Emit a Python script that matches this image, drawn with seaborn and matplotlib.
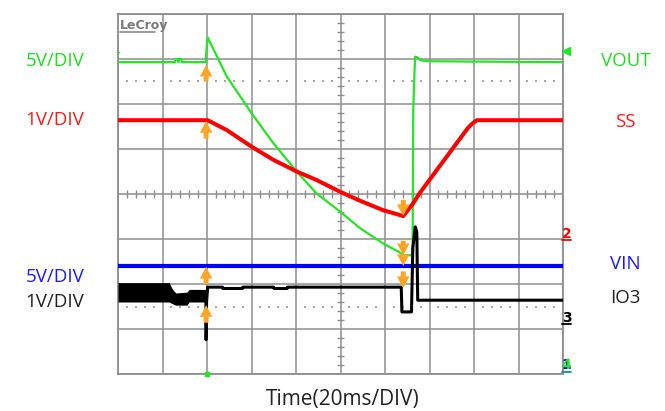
import numpy as np
import pandas as pd
import matplotlib
matplotlib.use("Agg")
import matplotlib.pyplot as plt
from matplotlib.lines import Line2D
import seaborn as sns

# ---- data: time in ms (20 ms/div), amplitude in screen divisions ----
vout_t = [0, 25.6, 26.0, 26.8, 27.2, 27.6, 28.4, 28.8, 39.5, 39.8, 40.4, 48.9, 60.1,
          69.8, 80.3, 89.3, 99.8, 108.8, 119.2, 126.7, 128.2, 132.4, 132.7, 133.5,
          134.5, 136.0, 140.0, 200.0]
vout_v = [2.93, 2.93, 3.0, 3.0, 2.93, 3.0, 3.0, 2.93, 2.93, 3.25, 3.47, 2.61, 1.79,
          1.13, 0.50, 0.01, -0.39, -0.76, -1.10, -1.30, -1.36, -1.36, 1.87, 3.05,
          3.04, 2.97, 2.95, 2.93]

ss_t = [0, 40.3, 48.9, 60.1, 69.8, 80.3, 89.3, 99.8, 108.8, 119.2, 128.2, 132.6,
        135.6, 157.3, 159.1, 161.3, 200]
ss_v = [1.64, 1.64, 1.42, 1.05, 0.76, 0.50, 0.31, 0.05, -0.15, -0.36, -0.49, -0.21,
        0.02, 1.47, 1.56, 1.64, 1.64]

vin_t = [0, 200]
vin_v = [-1.60, -1.60]

io3_band_t = [0, 23.0, 24.5, 26.0, 31.0, 32.0, 39.6]
io3_band_hi = [-1.97, -1.97, -2.12, -2.20, -2.18, -2.12, -2.12]
io3_band_lo = [-2.40, -2.40, -2.44, -2.47, -2.47, -2.40, -2.40]

io3_t = [39.5, 39.6, 39.8, 40.3, 47.0, 47.1, 56.0, 56.1, 70.0, 70.1, 76.0, 76.1,
         127.3, 127.6, 131.9, 132.5, 133.6, 134.3, 134.7, 200]
io3_v = [-2.25, -3.24, -2.40, -2.07, -2.07, -2.10, -2.10, -2.07, -2.07, -2.10, -2.10,
         -2.07, -2.07, -2.62, -2.62, -1.20, -0.73, -0.85, -2.36, -2.36]

# event markers (orange arrows): at trigger and at the end of the fault
up_event_t = 39.6
up_tips = [2.87, 1.62, -1.62, -2.47]
up_tails = [2.50, 1.23, -2.00, -2.86]
down_event_t = 128.2
down_tips = [-0.49, -1.36, -1.60, -2.09]
down_tails = [-0.13, -1.04, -1.36, -1.72]

left_labels = ["5V/DIV", "1V/DIV", "5V/DIV", "1V/DIV"]
right_labels = ["VOUT", "SS", "VIN", "IO3"]
x_label = "Time(20ms/DIV)"

# ---- style ----
sns.set_style("white")
plt.rcParams["font.family"] = ["Open Sans", "DejaVu Sans"]

C_GREEN = "#22e622"
C_RED = "#ff0000"
C_BLUE = "#0000ff"
C_BLACK = "#000000"
C_ORANGE = "#ffa526"
C_GRID = "#8e8e8e"
T_GREEN = "#1fe01f"
T_RED = "#ff1a1a"
T_BLUE = "#1a1aff"
T_BLACK = "#222222"

W, H = 665, 411
fig = plt.figure(figsize=(W / 100, H / 100), dpi=100)
ax = fig.add_axes([118 / W, 1 - 374 / H, 445 / W, 360 / H])
ax.set_xlim(0, 200)
ax.set_ylim(-4, 4)

ax.set_xticks(np.arange(0, 201, 20))
ax.set_yticks(np.arange(-4, 5, 1))
ax.grid(True, color=C_GRID, lw=1.1)
ax.set_axisbelow(True)
ax.tick_params(length=0, labelbottom=False, labelleft=False)
for s in ax.spines.values():
    s.set_color(C_GRID)
    s.set_linewidth(1.3)
ax.set_xlabel("")
ax.set_ylabel("")

# centre cross minor ticks
mx = [x for x in np.arange(0, 200.1, 4) if abs(x / 20 - round(x / 20)) > 1e-6]
ax.vlines(mx, -0.08, 0.08, color=C_GRID, lw=1.0, zorder=1)
my = [y for y in np.arange(-4, 4.01, 0.2) if abs(y - round(y)) > 1e-6]
ax.hlines(my, 100 - 1.6, 100 + 1.6, color=C_GRID, lw=1.0, zorder=1)

# dotted cursor rows at +/-2.5 div
ax.scatter(mx + mx, [2.5] * len(mx) + [-2.5] * len(mx), s=1.2, marker="s",
           color="#a8a8a8", linewidths=0, zorder=1)

# ---- traces ----
sns.lineplot(x=vin_t, y=vin_v, ax=ax, color=C_BLUE, lw=3.0, sort=False,
             estimator=None, zorder=3)
sns.lineplot(x=vout_t, y=vout_v, ax=ax, color=C_GREEN, lw=1.6, sort=False,
             estimator=None, zorder=4)
sns.lineplot(x=ss_t, y=ss_v, ax=ax, color=C_RED, lw=2.9, sort=False,
             estimator=None, zorder=5)
ax.fill_between(io3_band_t, io3_band_lo, io3_band_hi, color=C_BLACK, lw=0, zorder=6)
sns.lineplot(x=io3_t, y=io3_v, ax=ax, color=C_BLACK, lw=2.2, sort=False,
             estimator=None, zorder=6)

# ---- arrows ----
astyle = "simple,head_length=0.7,head_width=0.75,tail_width=0.3"
for tip, tail in zip(up_tips, up_tails):
    ax.annotate("", xy=(up_event_t, tip), xytext=(up_event_t, tail),
                arrowprops=dict(arrowstyle=astyle, color=C_ORANGE, lw=0,
                                mutation_scale=12, shrinkA=0, shrinkB=0), zorder=8)
for tip, tail in zip(down_tips, down_tails):
    ax.annotate("", xy=(down_event_t, tip), xytext=(down_event_t, tail),
                arrowprops=dict(arrowstyle=astyle, color=C_ORANGE, lw=0,
                                mutation_scale=12, shrinkA=0, shrinkB=0), zorder=8)

# ---- scope decorations ----
ax.plot([201.3], [3.18], marker="<", ms=6, color=C_GREEN, clip_on=False, zorder=9)
ax.plot([40.2], [-4.0], marker="s", ms=3, color=C_GREEN, clip_on=False, zorder=9)
ax.plot([-0.4, 0.6], [3.16, 3.16], color=C_GREEN, lw=1, clip_on=False, zorder=9)

fig.text(120 / W, 1 - 29 / H, "LeCroy", color="#7a7a7a", fontsize=9,
         family="DejaVu Sans", weight="bold")
fig.add_artist(Line2D([120 / W, 155 / W], [1 - 32 / H, 1 - 32 / H],
                      color="#8a8a8a", lw=1.2))

for txt, col, base, ucol in [("2", C_RED, 238, C_RED), ("3", C_BLACK, 322, C_BLACK)]:
    fig.text(566.5 / W, 1 - base / H, txt, color=col, fontsize=10, weight="bold",
             family="DejaVu Sans", ha="center", va="baseline")
    fig.add_artist(Line2D([562 / W, 571 / W], [1 - (base + 2) / H] * 2, color=ucol, lw=1.3))
fig.text(566.5 / W, 1 - 369 / H, "1", color=C_BLUE, fontsize=10, weight="bold",
         family="DejaVu Sans", ha="center", va="baseline")
fig.text(566.5 / W, 1 - 369 / H, "4", color=C_GREEN, fontsize=10, weight="bold",
         family="DejaVu Sans", ha="center", va="baseline")
fig.add_artist(Line2D([562 / W, 571 / W], [1 - 372 / H] * 2, color="#009999", lw=1.3))

# ---- channel labels ----
lcols = [T_GREEN, T_RED, T_BLUE, T_BLACK]
lbase = [66, 125, 282, 307]
for txt, col, b in zip(left_labels, lcols, lbase):
    fig.text(55 / W, 1 - b / H, txt, color=col, fontsize=13.5, ha="center",
             va="baseline")
rbase = [66, 127, 269, 303]
for txt, col, b in zip(right_labels, lcols, rbase):
    fig.text(625.5 / W, 1 - b / H, txt, color=col, fontsize=13.5, ha="center",
             va="baseline")
fig.text(343 / W, 1 - 405 / H, x_label, color="#222222", fontsize=15, ha="center",
         va="baseline")

fig.savefig("out.png", dpi=100)
